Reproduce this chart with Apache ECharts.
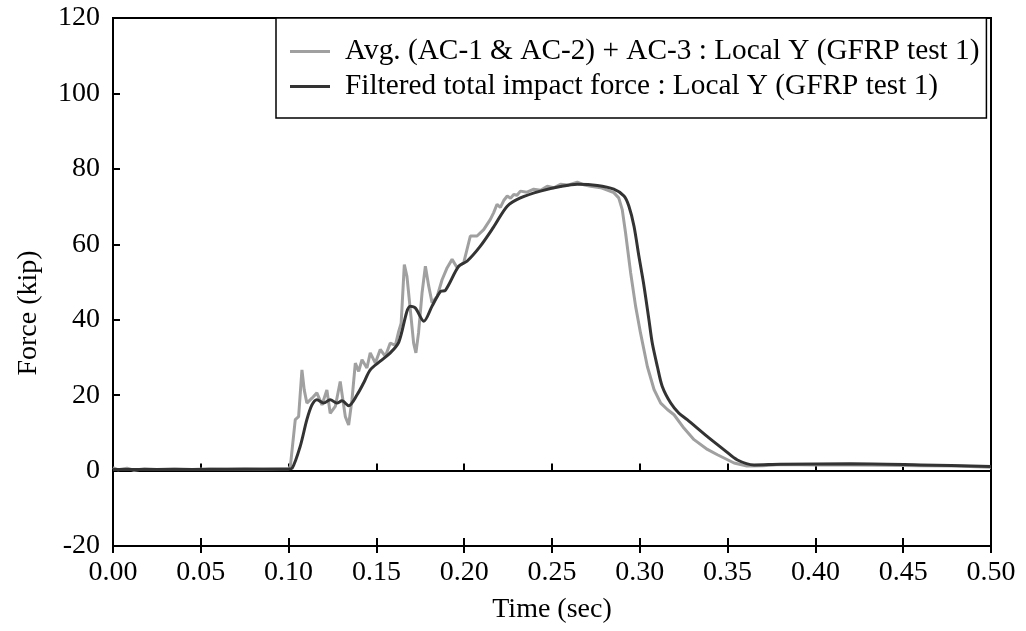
<!DOCTYPE html>
<html>
<head>
<meta charset="utf-8">
<script src="https://cdn.jsdelivr.net/npm/echarts@6/dist/echarts.min.js"></script>
<style>
  html, body { margin: 0; padding: 0; background: #fff; }
  #main { width: 1026px; height: 631px; }
</style>
</head>
<body>
<div id="main"></div>
<script>
// raw measured force (gray)
var rawTime = [0, 0.003, 0.008, 0.012, 0.018, 0.025, 0.035, 0.045, 0.055, 0.065, 0.075, 0.085, 0.095, 0.1,
  0.101, 0.1038, 0.1057, 0.1076, 0.1089, 0.1104, 0.1133, 0.1161, 0.119, 0.1218, 0.1237, 0.1266, 0.1294,
  0.1323, 0.1342, 0.1361, 0.138, 0.1399, 0.1418, 0.1446, 0.1465, 0.1494, 0.1522, 0.1551, 0.1579, 0.1608,
  0.1627, 0.1641, 0.1659, 0.1674, 0.1693, 0.1712, 0.1725, 0.174, 0.176, 0.1779, 0.1798, 0.1817, 0.1846,
  0.1874, 0.1903, 0.1931, 0.196, 0.1997, 0.2035, 0.2073, 0.2111, 0.2149, 0.2168, 0.2187, 0.2206, 0.2225,
  0.2245, 0.2264, 0.2282, 0.2301, 0.232, 0.2358, 0.2396, 0.2435, 0.2473, 0.251, 0.2548, 0.259, 0.2644,
  0.268, 0.272, 0.2777, 0.2852, 0.288, 0.29, 0.2919, 0.2948, 0.2976, 0.3004, 0.3043, 0.3081, 0.3119,
  0.3157, 0.3195, 0.3252, 0.3309, 0.3385, 0.3442, 0.3537, 0.361, 0.37, 0.38, 0.40, 0.42, 0.44, 0.46,
  0.48, 0.50];
var rawForce = [0.8, 0.2, 0.6, 0.1, 0.5, 0.3, 0.5, 0.3, 0.5, 0.4, 0.5, 0.4, 0.5, 0.5,
  1.1, 13.5, 14.3, 26.7, 21.4, 17.9, 19.2, 20.6, 17.4, 21.4, 15.2, 17.0, 23.6,
  14.3, 12.1, 18.8, 28.5, 26.3, 29.4, 27.2, 31.2, 28.5, 32.1, 30.3, 33.8, 33.2,
  36.9, 39.1, 54.6, 51.5, 42.7, 33.8, 31.2, 36.5, 47.1, 54.2, 48.9, 44.5, 46.2,
  50.6, 53.8, 56.0, 53.8, 55.1, 62.2, 62.2, 63.9, 66.6, 68.4, 70.6, 69.8, 71.6,
  72.8, 72.2, 73.2, 73.0, 74.1, 73.8, 74.6, 74.3, 75.4, 75.0, 75.9, 75.7, 76.5,
  75.8, 75.4, 75.0, 73.7, 72.3, 69.2, 63.0, 52.4, 43.6, 36.5, 27.6, 21.5, 17.9,
  16.2, 14.8, 11.2, 8.2, 5.6, 4.2, 2.0, 1.2, 1.3, 1.6, 1.5, 1.5, 1.4, 1.3,
  1.2, 0.9];

// filtered total impact force (dark)
var filtTime = [0, 0.05, 0.1, 0.102, 0.1066, 0.1104, 0.1133, 0.1161, 0.12, 0.1237, 0.1275, 0.1304,
  0.1342, 0.139, 0.1427, 0.1465, 0.1522, 0.1579, 0.1627, 0.1693, 0.1722, 0.177, 0.1817, 0.1865, 0.1893,
  0.1969, 0.2016, 0.2092, 0.2168, 0.2245, 0.232, 0.2434, 0.2548, 0.2644, 0.2758, 0.2852, 0.291, 0.2938,
  0.2967, 0.2995, 0.3024, 0.3052, 0.3071, 0.31, 0.3128, 0.3176, 0.3223, 0.327, 0.3385, 0.348, 0.3556,
  0.3651, 0.38, 0.42, 0.46, 0.50];
var filtForce = [0.3, 0.3, 0.4, 0.6, 6.4, 13.5, 17.4, 18.8, 17.9, 18.8, 17.9, 18.5,
  17.2, 20.1, 23.2, 26.7, 29.0, 31.2, 34.0, 43.6, 43.1, 39.6, 43.6, 47.5, 47.8,
  54.2, 55.5, 59.5, 64.6, 70.1, 72.3, 74.1, 75.3, 75.9, 75.6, 74.6, 72.8, 70.1,
  64.8, 56.8, 48.9, 40.0, 33.8, 27.6, 22.3, 17.9, 15.2, 13.5, 9.0, 5.5, 2.8,
  1.5, 1.7, 1.8, 1.5, 1.1];

var legendNames = [
  'Avg. (AC-1 & AC-2) + AC-3 : Local Y (GFRP test 1)',
  'Filtered total impact force : Local Y (GFRP test 1)'
];

function pairs(xs, ys) {
  var out = [];
  for (var i = 0; i < xs.length; i++) out.push([xs[i], ys[i]]);
  return out;
}

var font = 'Liberation Serif';
var chart = echarts.init(document.getElementById('main'));

chart.setOption({
  backgroundColor: '#fff',
  animation: false,
  textStyle: { fontFamily: font, color: '#000' },
  grid: {
    left: 113, right: 35, top: 18, bottom: 85,
    show: true, borderColor: '#000', borderWidth: 2, backgroundColor: 'transparent'
  },
  legend: {
    left: 276, top: 18,
    orient: 'vertical',
    backgroundColor: '#fff',
    borderColor: '#000', borderWidth: 1.5, borderRadius: 0,
    padding: [19, 7, 17, 14],
    itemGap: 6,
    itemWidth: 40, itemHeight: 3,
    textStyle: { fontFamily: font, fontSize: 29.3, color: '#000', padding: [0, 0, 0, 10] },
    data: [
      { name: legendNames[0], icon: 'rect' },
      { name: legendNames[1], icon: 'rect' }
    ]
  },
  xAxis: [{
    type: 'value', min: 0, max: 0.5, interval: 0.05,
    name: 'Time (sec)', nameLocation: 'middle', nameGap: 50,
    nameTextStyle: { fontFamily: font, fontSize: 28, color: '#000' },
    axisLine: { onZero: false, lineStyle: { color: '#000', width: 2 } },
    axisTick: { inside: true, length: 8, lineStyle: { color: '#000', width: 2 } },
    axisLabel: { fontFamily: font, fontSize: 28, color: '#000', margin: 13,
      formatter: function (v) { return v.toFixed(2); } },
    splitLine: { show: false }
  }, {
    type: 'value', min: 0, max: 0.5, interval: 0.05, position: 'bottom',
    axisLine: { onZero: true, lineStyle: { color: '#000', width: 2 } },
    axisTick: { inside: true, length: 7, lineStyle: { color: '#000', width: 2 } },
    axisLabel: { show: false }, splitLine: { show: false }
  }, {
    type: 'value', min: 0, max: 0.5, interval: 0.05, position: 'bottom',
    axisLine: { onZero: true, show: false },
    axisTick: { inside: false, length: 7, lineStyle: { color: '#000', width: 2 } },
    axisLabel: { show: false }, splitLine: { show: false }
  }],
  yAxis: {
    type: 'value', min: -20, max: 120, interval: 20,
    name: 'Force (kip)', nameLocation: 'middle', nameGap: 70,
    nameTextStyle: { fontFamily: font, fontSize: 28, color: '#000', padding: [0, 62, 0, 0] },
    axisLine: { lineStyle: { color: '#000', width: 2 } },
    axisTick: { inside: true, length: 7, lineStyle: { color: '#000', width: 2 } },
    axisLabel: { fontFamily: font, fontSize: 28, color: '#000', margin: 13 },
    splitLine: { show: false }
  },
  series: [{
    name: legendNames[0], type: 'line', xAxisIndex: 0,
    data: pairs(rawTime, rawForce),
    showSymbol: false, symbol: 'none',
    itemStyle: { color: '#a0a0a0' },
    lineStyle: { color: '#a0a0a0', width: 3 }
  }, {
    name: legendNames[1], type: 'line', xAxisIndex: 0,
    data: pairs(filtTime, filtForce),
    showSymbol: false, symbol: 'none', smooth: 0.3,
    itemStyle: { color: '#333333' },
    lineStyle: { color: '#333333', width: 3 }
  }]
});
</script>
</body>
</html>
